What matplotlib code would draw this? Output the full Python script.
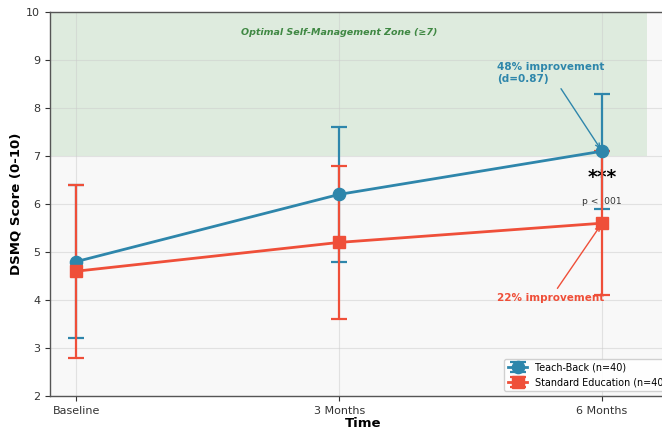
import matplotlib
matplotlib.use("Agg")
import matplotlib.pyplot as plt
import numpy as np

# ---- data ----
timepoints = ["Baseline", "3 Months", "6 Months"]
teach_back_mean = [4.8, 6.2, 7.1]
teach_back_err = [1.6, 1.4, 1.2]
standard_mean = [4.6, 5.2, 5.6]
standard_err = [1.8, 1.6, 1.5]
series_labels = ["Teach-Back (n=40)", "Standard Education (n=40)"]
y_ticks = [2, 3, 4, 5, 6, 7, 8, 9, 10]

BLUE = "#2E86AB"
RED = "#EF4F39"

fig = plt.figure(figsize=(6.62, 4.29), dpi=100)
fig.patch.set_facecolor("white")
# axes placed so that it extends slightly beyond the right edge (as in reference)
AX_W = 626
ax = fig.add_axes([50 / 662, 33 / 429, AX_W / 662, 384 / 429])
ax.set_facecolor("#F8F8F8")

x = np.arange(len(timepoints))

ax.axhspan(7, 10, xmin=0, xmax=(647 - 50) / AX_W, color="green", alpha=0.1, zorder=0.5, lw=0)
ax.text(1, 9.58, "Optimal Self-Management Zone (\u22657)", ha="center", va="center",
        fontsize=6.8, fontweight="bold", fontstyle="italic", color="#2E7D32", alpha=0.9)

ax.errorbar(x, teach_back_mean, yerr=teach_back_err, color=BLUE, marker="o",
            markersize=8.8, linewidth=2.0, elinewidth=1.6, capsize=5.6, capthick=1.6,
            label=series_labels[0], zorder=4)
ax.errorbar(x, standard_mean, yerr=standard_err, color=RED, marker="s",
            markersize=8.8, linewidth=2.0, elinewidth=1.6, capsize=5.6, capthick=1.6,
            label=series_labels[1], zorder=4)

ax.annotate("48% improvement\n(d=0.87)", xy=(x[2], teach_back_mean[2]), xytext=(1.6, 8.55),
            fontsize=7.5, fontweight="bold", color=BLUE, ha="left",
            arrowprops=dict(arrowstyle="->", color=BLUE, lw=1.0))
ax.annotate("22% improvement", xy=(x[2], standard_mean[2]), xytext=(1.6, 3.97),
            fontsize=7.5, fontweight="bold", color=RED, ha="left",
            arrowprops=dict(arrowstyle="->", color=RED, lw=1.0))

ax.text(x[2], 6.56, "***", ha="center", va="center", fontsize=13.5, fontweight="bold",
        color="black", zorder=3)
ax.text(x[2], 6.06, "p < .001", ha="center", va="center", fontsize=6.6, color="#333333",
        zorder=3)

ax.set_xlim(-0.1, (50 + AX_W - 76) / 263)
ax.set_ylim(2, 10)
ax.set_xticks(x)
ax.set_xticklabels(timepoints)
ax.set_yticks(y_ticks)
ax.tick_params(labelsize=8, colors="#333333")
ax.set_xlabel("Time", fontsize=9.5, fontweight="bold", labelpad=1)
ax.set_ylabel("DSMQ Score (0-10)", fontsize=9.5, fontweight="bold", labelpad=3)

ax.grid(True, color="#CCCCCC", alpha=0.5, linewidth=0.8)
ax.set_axisbelow(True)
for s in ax.spines.values():
    s.set_color("#555555")
    s.set_linewidth(1.0)

ax.legend(loc="lower right", fontsize=6.9, framealpha=0.9, borderaxespad=0.5)

fig.savefig("out.png", dpi=100)
